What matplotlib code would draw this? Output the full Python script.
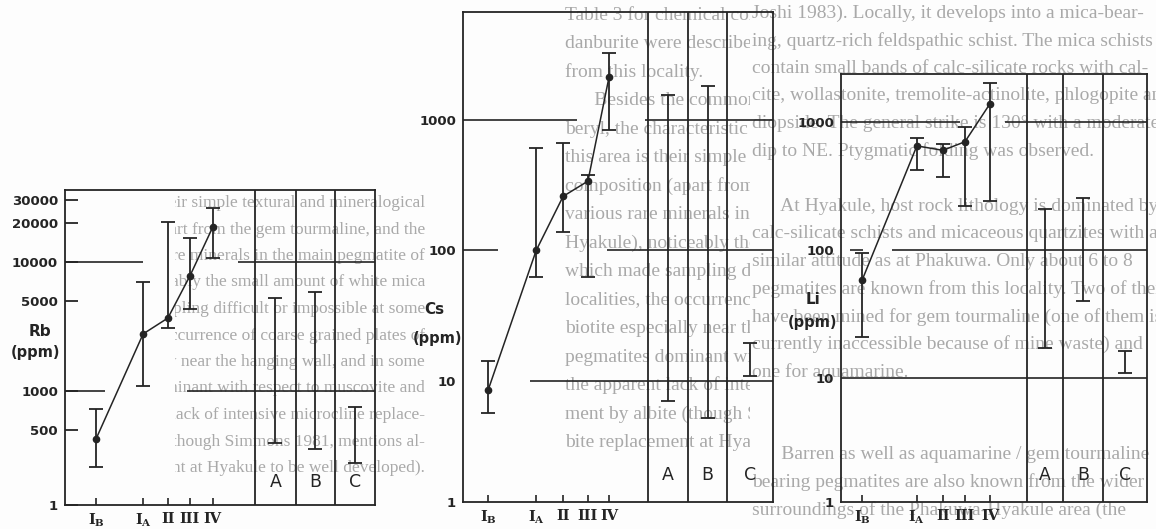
import matplotlib

matplotlib.use("Agg")

import matplotlib.pyplot as plt
from matplotlib.ticker import FixedLocator, NullLocator
from matplotlib.transforms import Bbox, TransformedBbox

W, H = 1156, 529
INK = "#242424"
PAGE = "#a9a9a9"

plt.rcParams["mathtext.fontset"] = "dejavuserif"

# zones I_B .. IV and the reference fields A, B, C
zones = [r"I$_\mathbf{B}$", r"I$_\mathbf{A}$", "II", "III", "IV"]
fields = ["A", "B", "C"]

# Rb (ppm): mean, lower and upper end of the range per zone
rb_mean = [425, 2770, 3680, 7800, 18700]
rb_low = [258, 1090, 3080, 4300, 10700]
rb_high = [725, 7000, 20400, 15300, 26000]
rb_field_low = [395, 355, 276]
rb_field_high = [5250, 5850, 750]
rb_ticks = [1, 500, 1000, 5000, 10000, 20000, 30000]

# Cs (ppm)
cs_mean = [8.5, 100, 260, 340, 2130]
cs_low = [5.7, 63, 138, 63, 840]
cs_high = [14.2, 610, 665, 380, 3260]
cs_field_low = [7.0, 5.2, 11]
cs_field_high = [1550, 1820, 19.6]
cs_ticks = [1, 10, 100, 1000]

# Li (ppm)
li_mean = [58, 650, 600, 700, 1390]
li_low = [20.8, 420, 370, 222, 243]
li_high = [95, 750, 670, 910, 2030]
li_field_low = [17.1, 40, 11]
li_field_high = [210, 255, 16.3]
li_ticks = [1, 10, 100, 1000]

# page text showing through the scan
left_column = [
    "Table 3 for chemical composition). Hambergite and",
    "danburite were described by Bassett (1985, 1987)",
    "from this locality.",
    "      Besides the common occurrence of schorl and",
    "beryl, the characteristic aspect of the pegmatites of",
    "this area is their simple textural and mineralogical",
    "composition (apart from the gem tourmaline, and the",
    "various rare minerals in the main pegmatite of",
    "Hyakule), noticeably the small amount of white mica",
    "which made sampling difficult or impossible at some",
    "localities, the occurrence of coarse grained plates of",
    "biotite especially near the hanging wall, and in some",
    "pegmatites dominant with respect to muscovite and",
    "the apparent lack of intensive microcline replace-",
    "ment by albite (though Simmons 1981, mentions al-",
    "bite replacement at Hyakule to be well developed).",
]
right_column = [
    "Joshi 1983). Locally, it develops into a mica-bear-",
    "ing, quartz-rich feldspathic schist. The mica schists",
    "contain small bands of calc-silicate rocks with cal-",
    "cite, wollastonite, tremolite-actinolite, phlogopite and",
    "diopside. The general strike is 130\u00b0 with a moderate",
    "dip to NE. Ptygmatic folding was observed.",
    "",
    "      At Hyakule, host rock lithology is dominated by",
    "calc-silicate schists and micaceous quartzites with a",
    "similar attitude as at Phakuwa. Only about 6 to 8",
    "pegmatites are known from this locality. Two of them",
    "have been mined for gem tourmaline (one of them is",
    "currently inaccessible because of mine waste) and",
    "one for aquamarine.",
    "",
    "",
    "      Barren as well as aquamarine / gem tourmaline",
    "bearing pegmatites are also known from the wider",
    "surroundings of the Phakuwa-Hyakule area (the",
]

fig = plt.figure(figsize=(W / 100, H / 100), dpi=100)
fig.patch.set_facecolor("#fdfdfd")


def page_lines(lines, x, y0, step, size, clip, ha="left"):
    x0, y_top, x1, y_bottom = clip
    box = TransformedBbox(
        Bbox.from_extents(x0 / W, 1 - y_bottom / H, x1 / W, 1 - y_top / H),
        fig.transFigure,
    )
    for i, line in enumerate(lines):
        if not line:
            continue
        t = fig.text(
            x / W, 1 - (y0 + i * step) / H, line, ha=ha, va="center",
            fontsize=size, family="Liberation Serif", color=PAGE, zorder=-5,
        )
        t.set_clip_box(box)
        t.set_clip_on(True)


page_lines(left_column[5:], 425, 203, 26.5, 12.5, (175, 186, 425, 529), ha="right")
page_lines(left_column, 565, 15, 28.5, 14, (420, 0, 750, 529))
page_lines(right_column, 752, 13, 27.6, 14, (750, 0, 1156, 529))


def draw_panel(frame, ylim, ticks, tick_len, xs, seps, grid, mean, low, high,
               field_low, field_high, abc_y, name, name_xy, unit_xy):
    left, top, right, bottom = frame
    ax = fig.add_axes([left / W, 1 - bottom / H, (right - left) / W, (bottom - top) / H])
    ax.set_facecolor("none")
    ax.set_yscale("log")
    ax.set_ylim(*ylim)
    ax.set_xlim(0, 1)
    for spine in ax.spines.values():
        spine.set_color(INK)
        spine.set_linewidth(1.3)

    for value, segments in grid.items():
        for x0, x1 in segments:
            ax.hlines(value, x0, x1, color=INK, lw=1.2)
    for s in seps:
        ax.axvline(s, color=INK, lw=1.3)

    ax.errorbar(
        xs, mean, yerr=[[m - l for m, l in zip(mean, low)], [h - m for m, h in zip(mean, high)]],
        fmt="-o", color=INK, ms=4.5, lw=1.1, elinewidth=1.3, capsize=4.7, capthick=1.3,
    )

    edges = list(seps) + [1.0]
    centers = [(a + b) / 2 for a, b in zip(edges[:-1], edges[1:])]
    ax.errorbar(
        centers, field_low, yerr=[[0] * 3, [h - l for l, h in zip(field_low, field_high)]],
        fmt="none", ecolor=INK, elinewidth=1.3, capsize=4.7, capthick=1.3,
    )
    for c, label in zip(centers, fields):
        ax.text(c, abc_y, label, transform=ax.get_xaxis_transform(), ha="center",
                va="center", fontsize=12.5, color=INK, family="DejaVu Sans")

    ax.yaxis.set_major_locator(FixedLocator([max(t, ylim[0]) for t in ticks]))
    ax.yaxis.set_minor_locator(NullLocator())
    ax.set_yticklabels([str(t) for t in ticks])
    ax.tick_params(axis="y", direction="in", length=tick_len, width=1.3, color=INK,
                   pad=5, labelsize=9.5, labelcolor=INK)
    for lab in ax.get_yticklabels():
        lab.set_fontweight("bold")

    ax.set_xticks(xs)
    ax.set_xticklabels(zones)
    ax.tick_params(axis="x", direction="in", length=5, width=1.2, color=INK,
                   pad=5, labelsize=10.5, labelcolor=INK)
    for lab in ax.get_xticklabels():
        lab.set_fontweight("bold")
        lab.set_family("DejaVu Serif")

    fig.text(name_xy[0] / W, 1 - name_xy[1] / H, name, ha="center", va="center",
             fontsize=11, fontweight="bold", color=INK)
    fig.text(unit_xy[0] / W, 1 - unit_xy[1] / H, "(ppm)", ha="center", va="center",
             fontsize=10.5, fontweight="bold", color=INK)
    return ax


draw_panel(
    (65, 190, 375, 505), (131, 36100), rb_ticks, 9.5,
    [0.100, 0.252, 0.332, 0.403, 0.477], [0.613, 0.745, 0.871],
    {1000: [(0, 0.129), (0.394, 1)], 10000: [(0, 0.252), (0.558, 1)]},
    rb_mean, rb_low, rb_high, rb_field_low, rb_field_high,
    0.073, "Rb", (40, 331), (35, 353),
)
draw_panel(
    (463, 12, 773, 502), (1.18, 6730), cs_ticks, 0,
    [0.081, 0.236, 0.323, 0.403, 0.471], [0.597, 0.726, 0.852],
    {1000: [(0, 0.368), (0.587, 1)], 100: [(0, 0.113), (0.465, 1)], 10: [(0.216, 1)]},
    cs_mean, cs_low, cs_high, cs_field_low, cs_field_high,
    0.055, "Cs", (434, 310), (438, 338),
)
draw_panel(
    (841, 74, 1147, 502), (1.07, 2370), li_ticks, 0,
    [0.069, 0.248, 0.333, 0.405, 0.487], [0.608, 0.725, 0.856],
    {1000: [(0, 0.389), (0.536, 1)], 100: [(0.03, 0.072), (0.167, 1)], 10: [(0, 1)]},
    li_mean, li_low, li_high, li_field_low, li_field_high,
    0.063, "Li", (813, 300), (813, 323),
)

fig.savefig("out.png", dpi=100, facecolor=fig.get_facecolor())
